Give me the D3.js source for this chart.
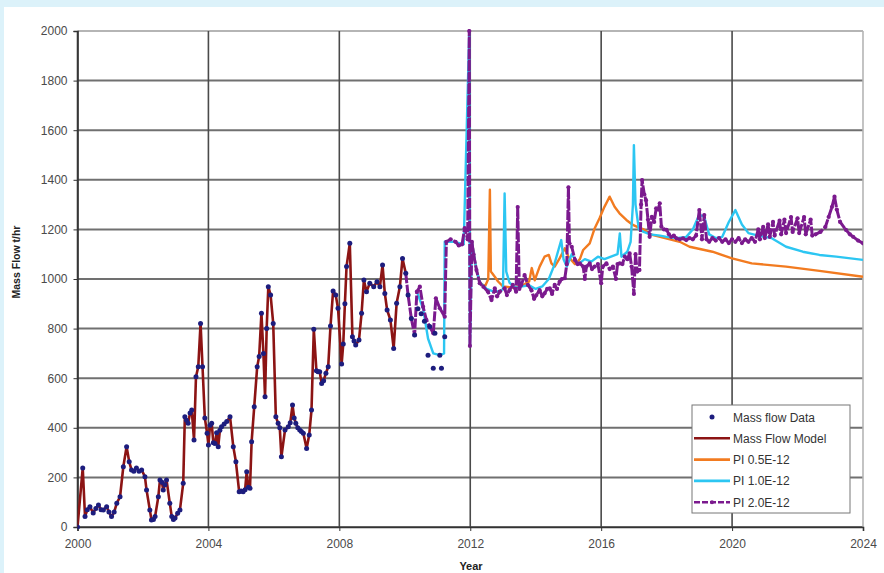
<!DOCTYPE html>
<html>
<head>
<meta charset="utf-8">
<script src="https://cdn.jsdelivr.net/npm/d3@7"></script>
<style>
  body { margin: 0; background: #dcf2fa; }
  svg { display: block; }
  text { font-family: "Liberation Sans", Arial, sans-serif; }
</style>
</head>
<body>
<div id="chart"></div>
<script>
// measured mass flow, [year, t/hr]
var massFlowData = [
  [2000.00, 0], [2000.16, 238], [2000.23, 42], [2000.30, 70], [2000.38, 82], [2000.48, 56],
  [2000.56, 75], [2000.64, 89], [2000.72, 70], [2000.79, 69], [2000.89, 82], [2000.96, 60],
  [2001.04, 42], [2001.12, 60], [2001.20, 96], [2001.30, 122], [2001.40, 243], [2001.50, 324],
  [2001.58, 263], [2001.65, 230], [2001.72, 225], [2001.80, 238], [2001.88, 225], [2001.96, 230],
  [2002.06, 203], [2002.11, 149], [2002.21, 69], [2002.26, 28], [2002.32, 30], [2002.37, 42],
  [2002.47, 122], [2002.52, 190], [2002.58, 180], [2002.62, 149], [2002.67, 170], [2002.72, 190],
  [2002.82, 96], [2002.88, 42], [2002.93, 30], [2002.98, 36], [2003.06, 55], [2003.13, 69],
  [2003.23, 176], [2003.28, 445], [2003.33, 430], [2003.38, 418], [2003.44, 460], [2003.49, 472],
  [2003.56, 351], [2003.62, 606], [2003.69, 646], [2003.76, 821], [2003.82, 646], [2003.89, 440],
  [2003.96, 378], [2004.00, 331], [2004.05, 410], [2004.10, 418], [2004.15, 340], [2004.20, 337],
  [2004.25, 380], [2004.30, 324], [2004.35, 390], [2004.40, 404], [2004.48, 415], [2004.56, 425],
  [2004.66, 445], [2004.76, 324], [2004.84, 263], [2004.94, 142], [2005.00, 145], [2005.06, 142],
  [2005.12, 150], [2005.17, 223], [2005.22, 160], [2005.27, 156], [2005.32, 344], [2005.40, 485],
  [2005.49, 646], [2005.55, 687], [2005.62, 862], [2005.68, 700], [2005.73, 525], [2005.78, 800],
  [2005.83, 969], [2005.90, 935], [2005.98, 821], [2006.06, 445], [2006.13, 418], [2006.18, 400],
  [2006.23, 283], [2006.34, 391], [2006.44, 404], [2006.50, 420], [2006.57, 492], [2006.62, 440],
  [2006.67, 418], [2006.73, 400], [2006.79, 391], [2006.84, 385], [2006.90, 378], [2007.00, 317],
  [2007.08, 371], [2007.15, 472], [2007.22, 797], [2007.30, 630], [2007.35, 626], [2007.40, 626],
  [2007.46, 579], [2007.52, 590], [2007.59, 620], [2007.66, 646], [2007.73, 810], [2007.81, 952],
  [2007.89, 935], [2007.96, 882], [2008.07, 657], [2008.12, 738], [2008.17, 900], [2008.22, 1050],
  [2008.32, 1144], [2008.40, 767], [2008.45, 750], [2008.50, 734], [2008.60, 754], [2008.68, 862],
  [2008.75, 996], [2008.83, 949], [2008.93, 983], [2009.05, 969], [2009.15, 989], [2009.24, 969],
  [2009.32, 1056], [2009.39, 942], [2009.46, 875], [2009.56, 835], [2009.66, 720], [2009.75, 902],
  [2009.85, 969], [2009.93, 1083], [2010.03, 1023], [2010.10, 935], [2010.20, 841], [2010.30, 774],
  [2010.40, 880], [2010.50, 860], [2010.60, 830], [2010.71, 693], [2010.76, 808], [2010.87, 640],
  [2010.92, 781], [2011.07, 693], [2011.12, 640], [2011.22, 767]
];

// the model follows the data until this year
var modelEnd = 2010.03;

var pi05 = [
  [2012.05, 1150], [2012.19, 1036], [2012.30, 985], [2012.45, 970], [2012.55, 1000], [2012.60, 1360],
  [2012.63, 1030], [2012.75, 1009], [2012.85, 990], [2013.00, 970], [2013.30, 965], [2013.60, 975],
  [2013.80, 990], [2013.88, 1044], [2013.97, 995], [2014.12, 1050], [2014.27, 1090], [2014.40, 1097],
  [2014.48, 1063], [2014.58, 1050], [2014.73, 1083], [2014.89, 1124], [2015.00, 1090], [2015.20, 1060],
  [2015.35, 1080], [2015.45, 1117], [2015.65, 1144], [2015.80, 1204], [2015.95, 1245], [2016.10, 1291],
  [2016.26, 1332], [2016.41, 1291], [2016.56, 1265], [2016.77, 1238], [2016.97, 1218], [2017.10, 1210],
  [2017.30, 1200], [2017.50, 1180], [2017.80, 1170], [2018.10, 1160], [2018.40, 1150], [2018.70, 1130],
  [2019.40, 1110], [2020.00, 1083], [2020.60, 1063], [2021.65, 1050], [2022.67, 1033], [2024.00, 1009]
];

var pi10 = [
  [2010.37, 949], [2010.56, 880], [2010.71, 760], [2010.87, 700], [2011.07, 693], [2011.20, 700],
  [2011.22, 1150], [2011.50, 1150], [2011.80, 1140], [2011.97, 2000], [2011.99, 730], [2012.05, 1150],
  [2012.19, 1036], [2012.30, 985], [2012.50, 960], [2012.70, 950], [2012.90, 950], [2013.00, 960],
  [2013.05, 1345], [2013.10, 1030], [2013.20, 985], [2013.40, 965], [2013.60, 970], [2013.80, 975],
  [2014.00, 960], [2014.20, 970], [2014.40, 1000], [2014.55, 1050], [2014.70, 1120], [2014.78, 1157],
  [2014.85, 1080], [2014.95, 1050], [2015.10, 1100], [2015.30, 1060], [2015.50, 1080], [2015.70, 1070],
  [2015.90, 1090], [2016.10, 1080], [2016.30, 1090], [2016.50, 1100], [2016.57, 1184], [2016.62, 1090],
  [2016.80, 1110], [2016.90, 1150], [2016.97, 1300], [2017.00, 1540], [2017.05, 1300], [2017.15, 1200],
  [2017.30, 1190], [2017.50, 1180], [2017.80, 1175], [2018.00, 1170], [2018.30, 1165], [2018.60, 1170],
  [2018.80, 1200], [2019.00, 1260], [2019.15, 1250], [2019.30, 1180], [2019.50, 1165], [2019.70, 1170],
  [2019.90, 1230], [2020.10, 1278], [2020.30, 1220], [2020.50, 1185], [2020.80, 1175], [2021.20, 1165],
  [2021.65, 1130], [2022.16, 1110], [2022.67, 1097], [2023.18, 1090], [2024.00, 1077]
];

var pi20 = [
  [2010.03, 1023], [2010.10, 935], [2010.20, 841], [2010.30, 774], [2010.37, 949], [2010.46, 969],
  [2010.56, 888], [2010.66, 835], [2010.76, 808], [2010.87, 781], [2010.95, 922], [2011.07, 882],
  [2011.22, 848], [2011.27, 1150], [2011.40, 1160], [2011.55, 1150], [2011.65, 1135], [2011.75, 1140],
  [2011.83, 1205], [2011.92, 1160], [2011.97, 2000], [2011.99, 730], [2012.05, 1150], [2012.10, 1100],
  [2012.19, 1036], [2012.29, 983], [2012.40, 969], [2012.54, 949], [2012.65, 915], [2012.75, 962],
  [2012.82, 930], [2012.90, 949], [2013.05, 962], [2013.12, 935], [2013.20, 955], [2013.30, 976],
  [2013.40, 949], [2013.45, 1290], [2013.50, 960], [2013.56, 976], [2013.66, 1016], [2013.76, 976],
  [2013.87, 955], [2013.95, 920], [2014.02, 935], [2014.12, 955], [2014.20, 930], [2014.27, 942],
  [2014.35, 960], [2014.43, 962], [2014.50, 940], [2014.58, 976], [2014.65, 960], [2014.73, 989],
  [2014.80, 1000], [2014.89, 1003], [2014.95, 1060], [2015.00, 1370], [2015.03, 1144], [2015.10, 1130],
  [2015.20, 1077], [2015.28, 1060], [2015.35, 1063], [2015.45, 1050], [2015.50, 1000], [2015.55, 1050],
  [2015.65, 1063], [2015.72, 1040], [2015.80, 1050], [2015.90, 1060], [2016.00, 983], [2016.05, 1050],
  [2016.16, 1063], [2016.26, 1040], [2016.36, 1050], [2016.45, 1000], [2016.50, 1060], [2016.57, 1063],
  [2016.65, 1060], [2016.72, 1090], [2016.80, 1080], [2016.87, 1103], [2016.93, 1050], [2017.00, 940],
  [2017.05, 1100], [2017.10, 1030], [2017.17, 1036], [2017.22, 1300], [2017.25, 1399], [2017.32, 1340],
  [2017.37, 1318], [2017.43, 1240], [2017.48, 1170], [2017.55, 1251], [2017.62, 1230], [2017.68, 1285],
  [2017.74, 1280], [2017.79, 1305], [2017.84, 1211], [2017.92, 1200], [2018.00, 1198], [2018.07, 1180],
  [2018.14, 1170], [2018.22, 1175], [2018.30, 1164], [2018.40, 1160], [2018.50, 1164], [2018.60, 1157],
  [2018.70, 1165], [2018.80, 1160], [2018.90, 1175], [2019.00, 1278], [2019.08, 1160], [2019.15, 1258],
  [2019.22, 1160], [2019.30, 1150], [2019.40, 1165], [2019.50, 1155], [2019.60, 1165], [2019.70, 1150],
  [2019.80, 1160], [2019.90, 1145], [2020.00, 1160], [2020.10, 1150], [2020.20, 1165], [2020.30, 1145],
  [2020.40, 1160], [2020.50, 1150], [2020.60, 1165], [2020.70, 1150], [2020.80, 1200], [2020.85, 1160],
  [2020.95, 1210], [2021.00, 1165], [2021.10, 1220], [2021.15, 1170], [2021.25, 1230], [2021.30, 1175],
  [2021.45, 1235], [2021.50, 1180], [2021.60, 1240], [2021.65, 1185], [2021.80, 1250], [2021.85, 1190],
  [2022.00, 1245], [2022.05, 1185], [2022.20, 1250], [2022.25, 1180], [2022.40, 1240], [2022.45, 1175],
  [2022.55, 1180], [2022.70, 1190], [2022.85, 1210], [2022.95, 1250], [2023.05, 1290], [2023.13, 1332],
  [2023.20, 1280], [2023.30, 1230], [2023.48, 1198], [2023.60, 1180], [2023.70, 1170], [2023.85, 1155],
  [2024.00, 1144]
];

var xTicks = [2000, 2004, 2008, 2012, 2016, 2020, 2024];
var yTicks = [0, 200, 400, 600, 800, 1000, 1200, 1400, 1600, 1800, 2000];
var legendLabels = ['Mass flow Data', 'Mass Flow Model', 'PI 0.5E-12', 'PI 1.0E-12', 'PI 2.0E-12'];

var W = 884, H = 573;
var colors = { data: '#1d1d7e', model: '#8c1414', pi05: '#f27b20', pi10: '#2cc6f2', pi20: '#7b1a8e' };

var svg = d3.select('#chart').append('svg')
  .attr('width', W).attr('height', H);

// white panel inside light blue frame
svg.append('rect').attr('x', 4).attr('y', 7).attr('width', W - 4).attr('height', H - 7).attr('fill', '#fff');

var x = d3.scaleLinear().domain([2000, 2024]).range([77.5, 863]);
var y = d3.scaleLinear().domain([0, 2000]).range([527, 31]);

// grid
svg.append('g').selectAll('line').data(yTicks).enter().append('line')
  .attr('x1', x(2000)).attr('x2', x(2024))
  .attr('y1', function(d) { return y(d); }).attr('y2', function(d) { return y(d); })
  .attr('stroke', function(d) { return d === 2000 ? '#b5b5b5' : '#707070'; })
  .attr('stroke-width', 2);
svg.append('g').selectAll('line').data(xTicks).enter().append('line')
  .attr('y1', y(0)).attr('y2', y(2000))
  .attr('x1', function(d) { return x(d); }).attr('x2', function(d) { return x(d); })
  .attr('stroke', function(d) { return d === 2024 ? '#b5b5b5' : '#4a4a4a'; })
  .attr('stroke-width', 1.6);

// axes
var yAxis = svg.append('g').attr('transform', 'translate(' + x(2000) + ',0)')
  .call(d3.axisLeft(y).tickValues(yTicks).tickSize(4).tickPadding(6).tickFormat(d3.format('d')));
var xAxis = svg.append('g').attr('transform', 'translate(0,' + y(0) + ')')
  .call(d3.axisBottom(x).tickValues(xTicks).tickSize(4).tickPadding(8).tickFormat(d3.format('d')));
[yAxis, xAxis].forEach(function(a) {
  a.select('.domain').attr('stroke', '#333').attr('stroke-width', 1.6);
  a.selectAll('.tick line').attr('stroke', '#333');
  a.selectAll('text').attr('font-size', 12).attr('fill', '#4a4a4a')
    .style('font-family', '"Liberation Sans", Arial, sans-serif');
});

svg.append('text')
  .attr('transform', 'translate(20,262) rotate(-90)')
  .attr('text-anchor', 'middle').attr('font-size', 10.5).attr('font-weight', 'bold').attr('fill', '#222')
  .text('Mass Flow t/hr');
svg.append('text')
  .attr('x', 471).attr('y', 570).attr('text-anchor', 'middle')
  .attr('font-size', 11).attr('font-weight', 'bold').attr('fill', '#222')
  .text('Year');

svg.append('clipPath').attr('id', 'plot').append('rect')
  .attr('x', x(2000)).attr('y', y(2000) - 2).attr('width', x(2024) - x(2000)).attr('height', y(0) - y(2000) + 4);

var plot = svg.append('g').attr('clip-path', 'url(#plot)');

var line = d3.line().x(function(d) { return x(d[0]); }).y(function(d) { return y(d[1]); });

var modelPts = massFlowData.filter(function(d) { return d[0] <= modelEnd; });

plot.append('path').datum(modelPts).attr('d', line)
  .attr('fill', 'none').attr('stroke', colors.model).attr('stroke-width', 2.6).attr('stroke-linejoin', 'round');
plot.append('path').datum(pi05).attr('d', line)
  .attr('fill', 'none').attr('stroke', colors.pi05).attr('stroke-width', 2.4).attr('stroke-linejoin', 'round');
plot.append('path').datum(pi10).attr('d', line)
  .attr('fill', 'none').attr('stroke', colors.pi10).attr('stroke-width', 2.4).attr('stroke-linejoin', 'round');
plot.append('path').datum(pi20).attr('d', line)
  .attr('fill', 'none').attr('stroke', colors.pi20).attr('stroke-width', 3)
  .attr('stroke-dasharray', '10,1.5').attr('stroke-linejoin', 'round');
plot.append('g').selectAll('circle').data(pi20).enter().append('circle')
  .attr('cx', function(d) { return x(d[0]); }).attr('cy', function(d) { return y(d[1]); })
  .attr('r', 2.1).attr('fill', colors.pi20);

plot.append('g').selectAll('circle').data(massFlowData).enter().append('circle')
  .attr('cx', function(d) { return x(d[0]); }).attr('cy', function(d) { return y(d[1]); })
  .attr('r', 2.5).attr('fill', colors.data);

// legend
var lg = svg.append('g').attr('transform', 'translate(692,405)');
lg.append('rect').attr('width', 158).attr('height', 108)
  .attr('fill', '#fff').attr('stroke', '#777').attr('stroke-width', 1);
var keys = ['data', 'model', 'pi05', 'pi10', 'pi20'];
var rows = lg.selectAll('g.row').data(legendLabels).enter().append('g')
  .attr('transform', function(d, i) { return 'translate(0,' + (12 + i * 21.3) + ')'; });
rows.each(function(d, i) {
  var g = d3.select(this), k = keys[i];
  if (k === 'data') {
    g.append('circle').attr('cx', 20).attr('cy', 0).attr('r', 2.5).attr('fill', colors.data);
  } else {
    g.append('line').attr('x1', 2).attr('x2', 38).attr('y1', 0).attr('y2', 0)
      .attr('stroke', colors[k]).attr('stroke-width', 2.6)
      .attr('stroke-dasharray', k === 'pi20' ? '6,2' : null);
    if (k === 'pi20') g.append('circle').attr('cx', 20).attr('cy', 0).attr('r', 2).attr('fill', colors.pi20);
  }
  g.append('text').attr('x', 41).attr('y', 4.5).attr('font-size', 12).attr('fill', '#333').text(d);
});
</script>
</body>
</html>
